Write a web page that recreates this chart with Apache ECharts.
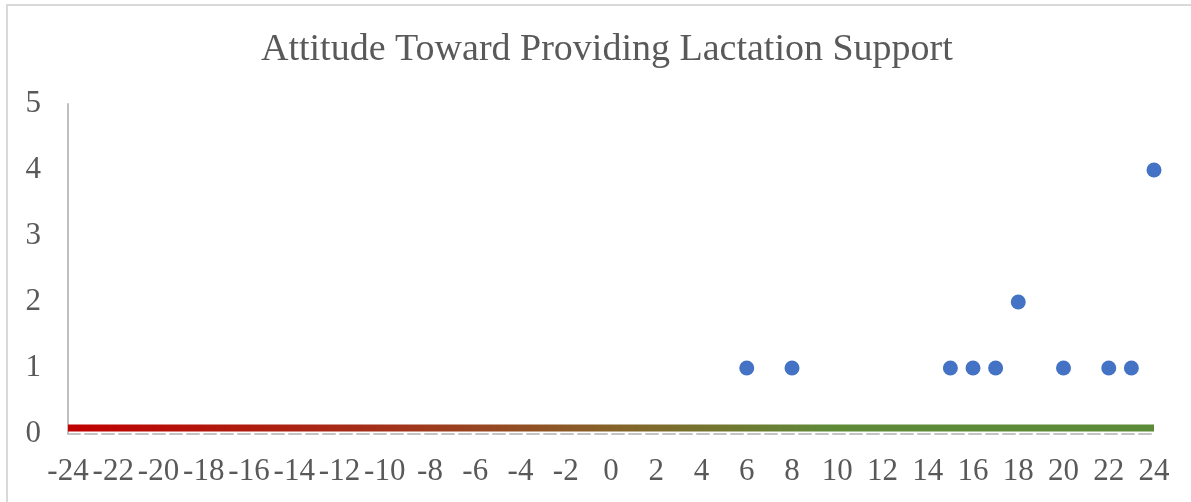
<!DOCTYPE html>
<html>
<head>
<meta charset="utf-8">
<script src="https://cdn.jsdelivr.net/npm/echarts@6/dist/echarts.min.js"></script>
<style>html,body{margin:0;padding:0;background:#fff}#c{width:1191px;height:502px}</style>
</head>
<body>
<div id="c"></div>
<script>
const titleText = 'Attitude Toward Providing Lactation Support';
const pointX = [6, 8, 15, 16, 17, 18, 20, 22, 23, 24];
const pointY = [1, 1, 1, 1, 1, 2, 1, 1, 1, 4];
const scaleX = [-24, 24];
const scaleY = [0.09, 0.09];
const xMin = -24, xMax = 24, xStep = 2;
const yMin = 0, yMax = 5, yStep = 1;

const chart = echarts.init(document.getElementById('c'));
const font = '"Liberation Serif", "Times New Roman", serif';
chart.setOption({
  animation: false,
  backgroundColor: '#ffffff',
  title: {
    text: titleText, left: 256, top: 26,
    textStyle: { fontFamily: font, fontSize: 38, fontWeight: 'normal', color: '#595959' }
  },
  graphic: [{
    type: 'rect', silent: true, z: -1,
    shape: { x: 7, y: 5, width: 1220, height: 620 },
    style: { fill: 'none', stroke: '#d9d9d9', lineWidth: 2 }
  }],
  grid: { left: 68, right: 37, top: 104, bottom: 68, containLabel: false },
  xAxis: {
    type: 'value', min: xMin, max: xMax, interval: xStep,
    axisLine: { show: true, onZero: true, lineStyle: { color: '#c4c4c4', width: 2, type: [12, 5] } },
    axisTick: { show: false }, splitLine: { show: false },
    axisLabel: { fontFamily: font, fontSize: 31, color: '#595959', margin: 22 }
  },
  yAxis: {
    type: 'value', min: yMin, max: yMax, interval: yStep,
    axisLine: { show: true, onZero: false, lineStyle: { color: '#bfbfbf', width: 2 } },
    axisTick: { show: false }, splitLine: { show: false },
    axisLabel: { fontFamily: font, fontSize: 31, color: '#595959', margin: 27 }
  },
  series: [{
    type: 'line', silent: true, symbol: 'none', z: 3,
    data: scaleX.map((x, i) => [x, scaleY[i]]),
    lineStyle: {
      width: 7,
      color: new echarts.graphic.LinearGradient(0, 0, 1, 0, [
        { offset: 0, color: '#C00000' },
        { offset: 0.3, color: '#A2321A' },
        { offset: 0.5, color: '#86622A' },
        { offset: 0.7, color: '#5E8A38' },
        { offset: 1, color: '#5B8A38' }
      ])
    }
  }, {
    type: 'scatter', z: 4,
    data: pointX.map((x, i) => [x, pointY[i]]),
    symbolSize: 15,
    itemStyle: { color: '#4472C4', opacity: 1 }
  }]
});
</script>
</body>
</html>
